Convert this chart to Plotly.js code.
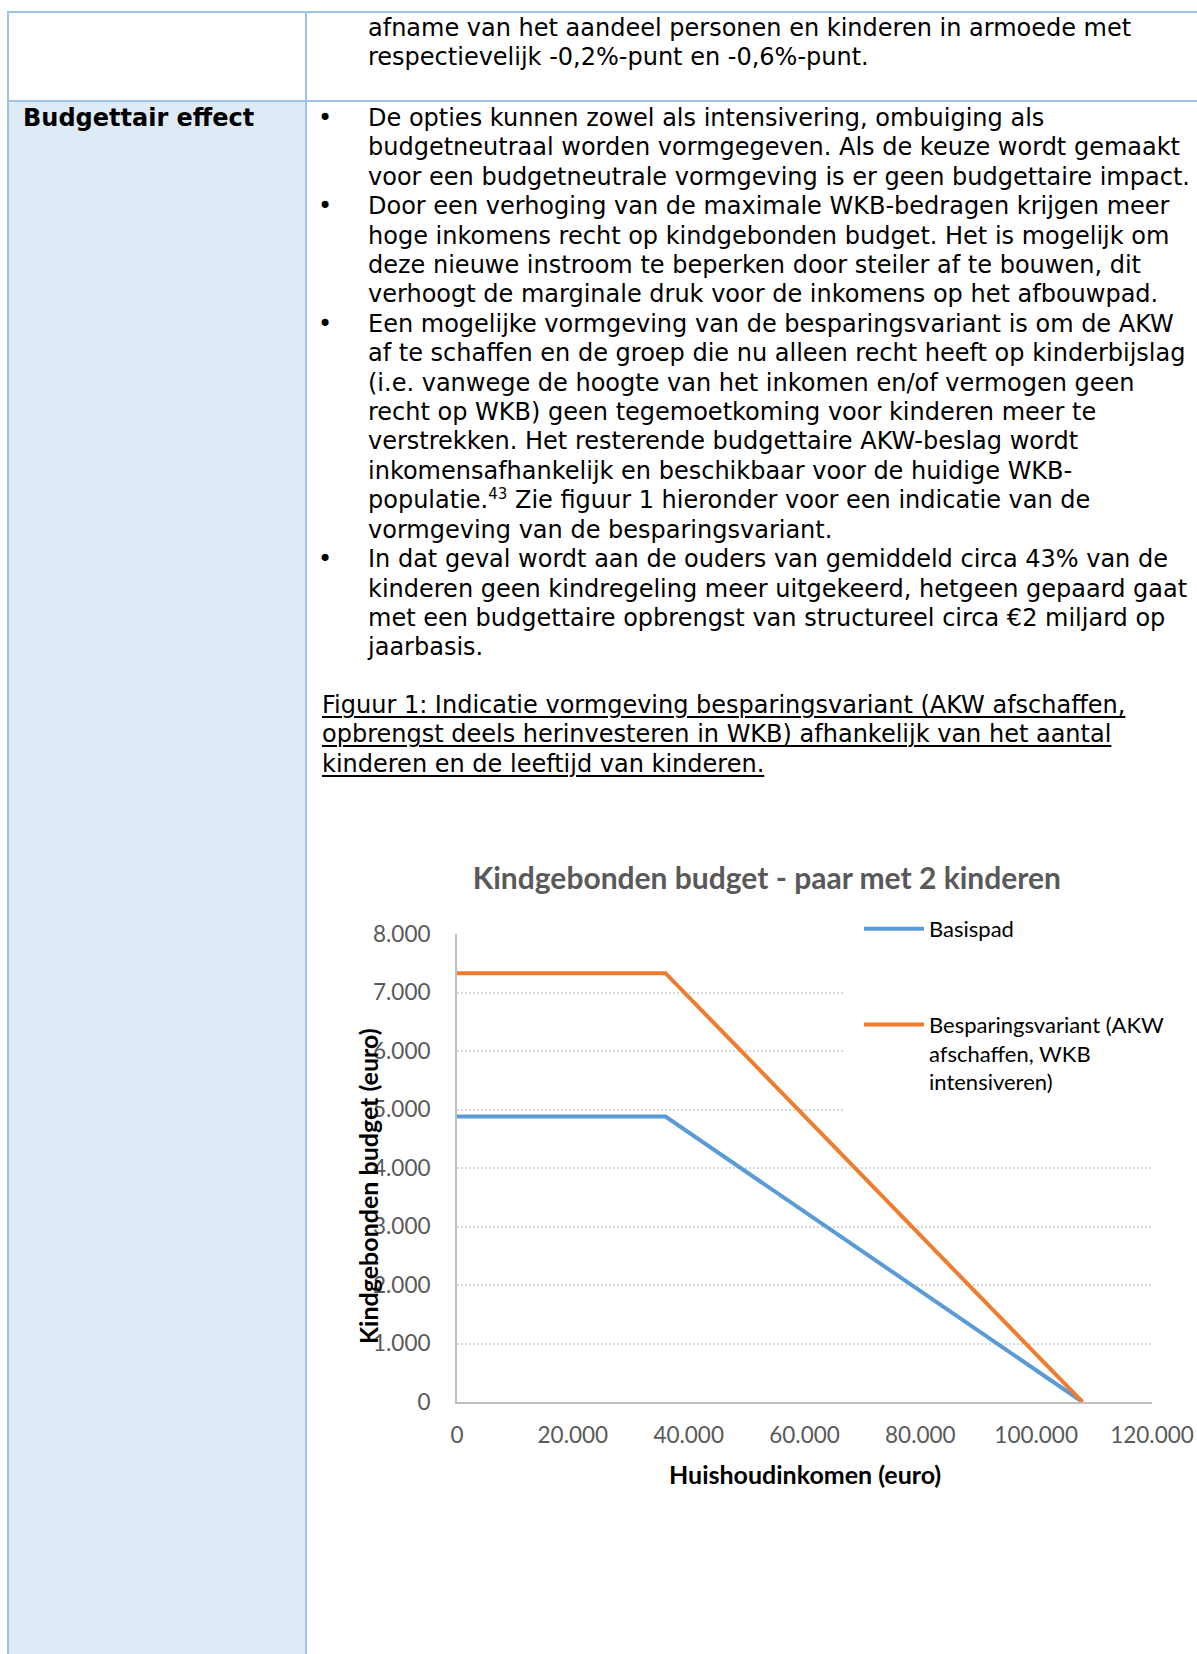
<!DOCTYPE html>
<html>
<head>
<meta charset="utf-8">
<script src="https://cdn.plot.ly/plotly-3.0.1.min.js"></script>
<style>
  html, body { margin:0; padding:0; background:#fff; }
  body { width:1197px; height:1654px; position:relative; overflow:hidden; font-family:"DejaVu Sans", Verdana, sans-serif; color:#000; }
  .abs { position:absolute; }
  .hline { position:absolute; height:2px; background:#9DC3E6; }
  .vline { position:absolute; width:2px; background:#9DC3E6; }
  .txt { position:absolute; font-size:24px; line-height:29.4px; white-space:nowrap; }
  .bul { position:absolute; font-size:24px; line-height:29.4px; }
  sup { font-size:15px; line-height:0; vertical-align:9px; }
  u { text-decoration-thickness:2px; text-underline-offset:3px; }
  #chart { position:absolute; left:310px; top:820px; width:887px; height:680px; }
</style>
</head>
<body>
<!-- table background and borders -->
<div class="abs" style="left:8px; top:101px; width:298px; height:1553px; background:#DEEAF6;"></div>
<div class="hline" style="left:7px; top:11px; width:1190px;"></div>
<div class="hline" style="left:7px; top:100px; width:1190px;"></div>
<div class="vline" style="left:7px; top:11px; height:1643px;"></div>
<div class="vline" style="left:305px; top:11px; height:1643px;"></div>

<!-- row 1 -->
<div class="txt" style="left:368px; top:14px;">afname van het aandeel personen en kinderen in armoede met<br>respectievelijk -0,2%-punt en -0,6%-punt.</div>

<!-- row 2 -->
<div class="txt" style="left:23px; top:104px; font-weight:bold;">Budgettair effect</div>

<div class="bul" style="left:318px; top:104px;">•</div>
<div class="bul" style="left:318px; top:192.2px;">•</div>
<div class="bul" style="left:318px; top:309.8px;">•</div>
<div class="bul" style="left:318px; top:545px;">•</div>

<div class="txt" style="left:368px; top:104px;">De opties kunnen zowel als intensivering, ombuiging als<br>budgetneutraal worden vormgegeven. Als de keuze wordt gemaakt<br>voor een budgetneutrale vormgeving is er geen budgettaire impact.<br>Door een verhoging van de maximale WKB-bedragen krijgen meer<br>hoge inkomens recht op kindgebonden budget. Het is mogelijk om<br>deze nieuwe instroom te beperken door steiler af te bouwen, dit<br>verhoogt de marginale druk voor de inkomens op het afbouwpad.<br>Een mogelijke vormgeving van de besparingsvariant is om de AKW<br>af te schaffen en de groep die nu alleen recht heeft op kinderbijslag<br>(i.e. vanwege de hoogte van het inkomen en/of vermogen geen<br>recht op WKB) geen tegemoetkoming voor kinderen meer te<br>verstrekken. Het resterende budgettaire AKW-beslag wordt<br>inkomensafhankelijk en beschikbaar voor de huidige WKB-<br>populatie.<sup>43</sup> Zie figuur 1 hieronder voor een indicatie van de<br>vormgeving van de besparingsvariant.<br>In dat geval wordt aan de ouders van gemiddeld circa 43% van de<br>kinderen geen kindregeling meer uitgekeerd, hetgeen gepaard gaat<br>met een budgettaire opbrengst van structureel circa €2 miljard op<br>jaarbasis.</div>

<div class="txt" style="left:322px; top:691px;"><u>Figuur 1: Indicatie vormgeving besparingsvariant (AKW afschaffen,</u><br><u>opbrengst deels herinvesteren in WKB) afhankelijk van het aantal</u><br><u>kinderen en de leeftijd van kinderen.</u></div>

<div id="chart"></div>

<script>
// ---- data ----
const seriesNames = ["Basispad", "Besparingsvariant (AKW<br>afschaffen, WKB<br>intensiveren)"];
const incomeBasispad = [0, 36000, 108000];
const valuesBasispad = [4880, 4880, 0];
const incomeBesparing = [0, 36000, 108000];
const valuesBesparing = [7330, 7330, 0];
const xTicks = [0, 20000, 40000, 60000, 80000, 100000, 120000];
const yTicks = [0, 1000, 2000, 3000, 4000, 5000, 6000, 7000, 8000];
const chartTitle = "Kindgebonden budget - paar met 2 kinderen";
const xTitle = "Huishoudinkomen (euro)";
const yTitle = "Kindgebonden budget (euro)";

const chartFont = "Lato, 'Open Sans', sans-serif";

const traces = [
  { x: incomeBasispad, y: valuesBasispad, name: seriesNames[0], mode: "lines", legendgroup: "a",
    line: { color: "#5B9BD5", width: 4 } },
  { x: incomeBesparing, y: valuesBesparing, name: seriesNames[1], mode: "lines", legendgroup: "b",
    line: { color: "#ED7D31", width: 4 } }
];

const layout = {
  width: 887, height: 680,
  margin: { l: 147, r: 45, t: 114, b: 98, autoexpand: false },
  paper_bgcolor: "rgba(0,0,0,0)",
  plot_bgcolor: "#fff",
  separators: ",.",
  font: { family: chartFont, color: "#595959" },
  title: { text: chartTitle, x: 0.515, xref: "container", y: 0.9147, yref: "container", yanchor: "middle",
           font: { family: chartFont, size: 30, color: "#595959", weight: "bold" } },
  xaxis: { range: [0, 120000], tickvals: xTicks, tickformat: ",d", showgrid: false, zeroline: false,
           showline: true, linecolor: "#BFBFBF", linewidth: 2, ticks: "", ticklabelstandoff: 12,
           tickfont: { family: chartFont, size: 22.5, color: "#595959" }, fixedrange: true },
  yaxis: { range: [0, 8000], tickvals: yTicks, tickformat: ",d", showgrid: true, gridcolor: "#D9D9D9",
           gridwidth: 2, griddash: "2px,2px", zeroline: false, showline: true, linecolor: "#BFBFBF",
           linewidth: 2, ticks: "", ticklabelstandoff: 20,
           tickfont: { family: chartFont, size: 22.5, color: "#595959" }, fixedrange: true },
  legend: { x: 0.5554, xanchor: "left", y: 1.0897, yanchor: "top", bgcolor: "#ffffff",
            bordercolor: "#ffffff", borderwidth: 16,
            valign: "top", tracegroupgap: 64, itemwidth: 60,
            font: { family: chartFont, size: 22, color: "#000000" } },
  showlegend: true,
  annotations: [
    { text: yTitle, xref: "paper", yref: "paper", x: 0, y: 0.4615, xshift: -89, xanchor: "center", yanchor: "middle",
      textangle: -90, showarrow: false, font: { family: chartFont, size: 25, color: "#000000", weight: "bold" } },
    { text: xTitle, xref: "paper", yref: "paper", x: 0.5, y: 0, yshift: -72, xanchor: "center", yanchor: "middle",
      showarrow: false, font: { family: chartFont, size: 25, color: "#000000", weight: "bold" } }
  ]
};

Plotly.newPlot("chart", traces, layout, { displayModeBar: false, staticPlot: true });
</script>
</body>
</html>
